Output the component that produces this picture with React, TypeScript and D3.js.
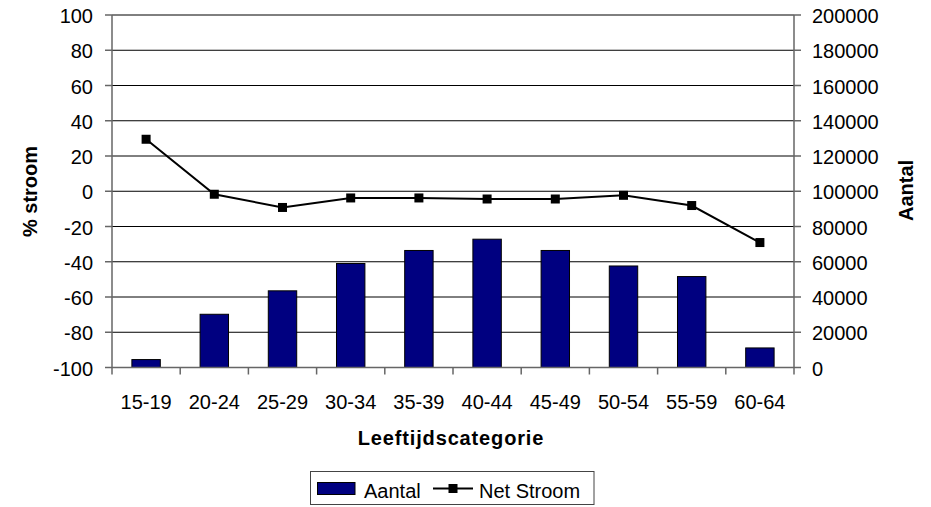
import React from "react";
import * as d3 from "d3";

const categories = ["15-19", "20-24", "25-29", "30-34", "35-39", "40-44", "45-49", "50-54", "55-59", "60-64"];
const aantal = [4500, 30200, 43500, 59000, 66400, 72800, 66400, 57600, 51600, 11100];
const netStroom = [29.5, -1.7, -9.2, -3.8, -3.8, -4.4, -4.4, -2.3, -8.1, -29.1];
const leftTicks = [-100, -80, -60, -40, -20, 0, 20, 40, 60, 80, 100];
const rightTicks = [0, 20000, 40000, 60000, 80000, 100000, 120000, 140000, 160000, 180000, 200000];

const W = 931;
const H = 507;
const plotLeft = 112;
const plotRight = 794;
const plotTop = 15;
const plotBottom = 367.5;
const FONT = "Arial, 'Liberation Sans', sans-serif";
const FS = 20;

export default function App() {
  const x = d3.scaleBand<string>().domain(categories).range([plotLeft, plotRight]).padding(0);
  const yL = d3.scaleLinear().domain([-100, 100]).range([plotBottom, plotTop]);
  const yR = d3.scaleLinear().domain([0, 200000]).range([plotBottom, plotTop]);
  const barW = x.bandwidth() / 2.4;
  const cx = (c: string) => (x(c) as number) + x.bandwidth() / 2;
  const line = d3
    .line<number>()
    .x((_, i) => cx(categories[i]))
    .y((d) => yL(d));

  return (
    <svg
      width={W}
      height={H}
      style={{ position: "absolute", left: 0, top: 0, background: "#fff" }}
      fontFamily={FONT}
    >
      <rect x={0} y={0} width={W} height={H} fill="#fff" />
      {/* gridlines */}
      {leftTicks.map((t) => (
        <line key={"g" + t} x1={plotLeft} x2={plotRight} y1={yL(t)} y2={yL(t)} stroke="#000" strokeWidth={1} />
      ))}
      {/* bars */}
      {categories.map((c, i) => (
        <rect
          key={"b" + c}
          x={cx(c) - barW / 2}
          y={yR(aantal[i])}
          width={barW}
          height={plotBottom - yR(aantal[i])}
          fill="#000080"
          stroke="#000"
          strokeWidth={1}
        />
      ))}
      {/* axes */}
      <line x1={plotLeft} x2={plotLeft} y1={plotTop} y2={plotBottom} stroke="#666" strokeWidth={1.5} />
      <line x1={plotRight} x2={plotRight} y1={plotTop} y2={plotBottom} stroke="#666" strokeWidth={1.5} />
      <line x1={plotLeft} x2={plotRight} y1={plotBottom} y2={plotBottom} stroke="#666" strokeWidth={1.5} />
      {leftTicks.map((t) => (
        <g key={"lt" + t}>
          <line x1={plotLeft - 7} x2={plotLeft} y1={yL(t)} y2={yL(t)} stroke="#666" strokeWidth={1.5} />
          <text x={93} y={yL(t)} dy="0.4em" textAnchor="end" fontSize={FS} fill="#000">
            {t}
          </text>
        </g>
      ))}
      {rightTicks.map((t) => (
        <g key={"rt" + t}>
          <line x1={plotRight} x2={plotRight + 7} y1={yR(t)} y2={yR(t)} stroke="#666" strokeWidth={1.5} />
          <text x={812} y={yR(t)} dy="0.4em" textAnchor="start" fontSize={FS} fill="#000">
            {t}
          </text>
        </g>
      ))}
      {categories.map((c) => (
        <line
          key={"xt" + c}
          x1={x(c) as number}
          x2={x(c) as number}
          y1={plotBottom}
          y2={plotBottom + 7}
          stroke="#666"
          strokeWidth={1.5}
        />
      ))}
      <line x1={plotRight} x2={plotRight} y1={plotBottom} y2={plotBottom + 7} stroke="#666" strokeWidth={1.5} />
      {categories.map((c) => (
        <text key={"xl" + c} x={cx(c)} y={408.5} textAnchor="middle" fontSize={FS} fill="#000">
          {c}
        </text>
      ))}
      {/* line series */}
      <path d={line(netStroom) as string} fill="none" stroke="#000" strokeWidth={2} />
      {netStroom.map((v, i) => (
        <rect key={"m" + i} x={cx(categories[i]) - 4.5} y={yL(v) - 4.5} width={9} height={9} fill="#000" />
      ))}
      {/* axis titles */}
      <text x={451} y={444.5} textAnchor="middle" fontSize={FS} fontWeight="bold" letterSpacing={0.85} fill="#000">
        Leeftijdscategorie
      </text>
      <text
        transform={`translate(37,${191.5}) rotate(-90)`}
        textAnchor="middle"
        fontSize={FS}
        fontWeight="bold"
        fill="#000"
      >
        % stroom
      </text>
      <text
        transform={`translate(913,${190.5}) rotate(-90)`}
        textAnchor="middle"
        fontSize={FS}
        fontWeight="bold"
        fill="#000"
      >
        Aantal
      </text>
      {/* legend */}
      <rect x={310.5} y={471.5} width={283.5} height={33} fill="#fff" stroke="#444" strokeWidth={1} />
      <rect x={317.5} y={482.5} width={37.5} height={12} fill="#000080" stroke="#000" strokeWidth={1} />
      <text x={364} y={497.5} fontSize={FS} fill="#000">
        Aantal
      </text>
      <line x1={433} x2={473} y1={488.5} y2={488.5} stroke="#000" strokeWidth={2} />
      <rect x={448.5} y={484} width={9} height={9} fill="#000" />
      <text x={479} y={497.5} fontSize={FS} fill="#000">
        Net Stroom
      </text>
    </svg>
  );
}
